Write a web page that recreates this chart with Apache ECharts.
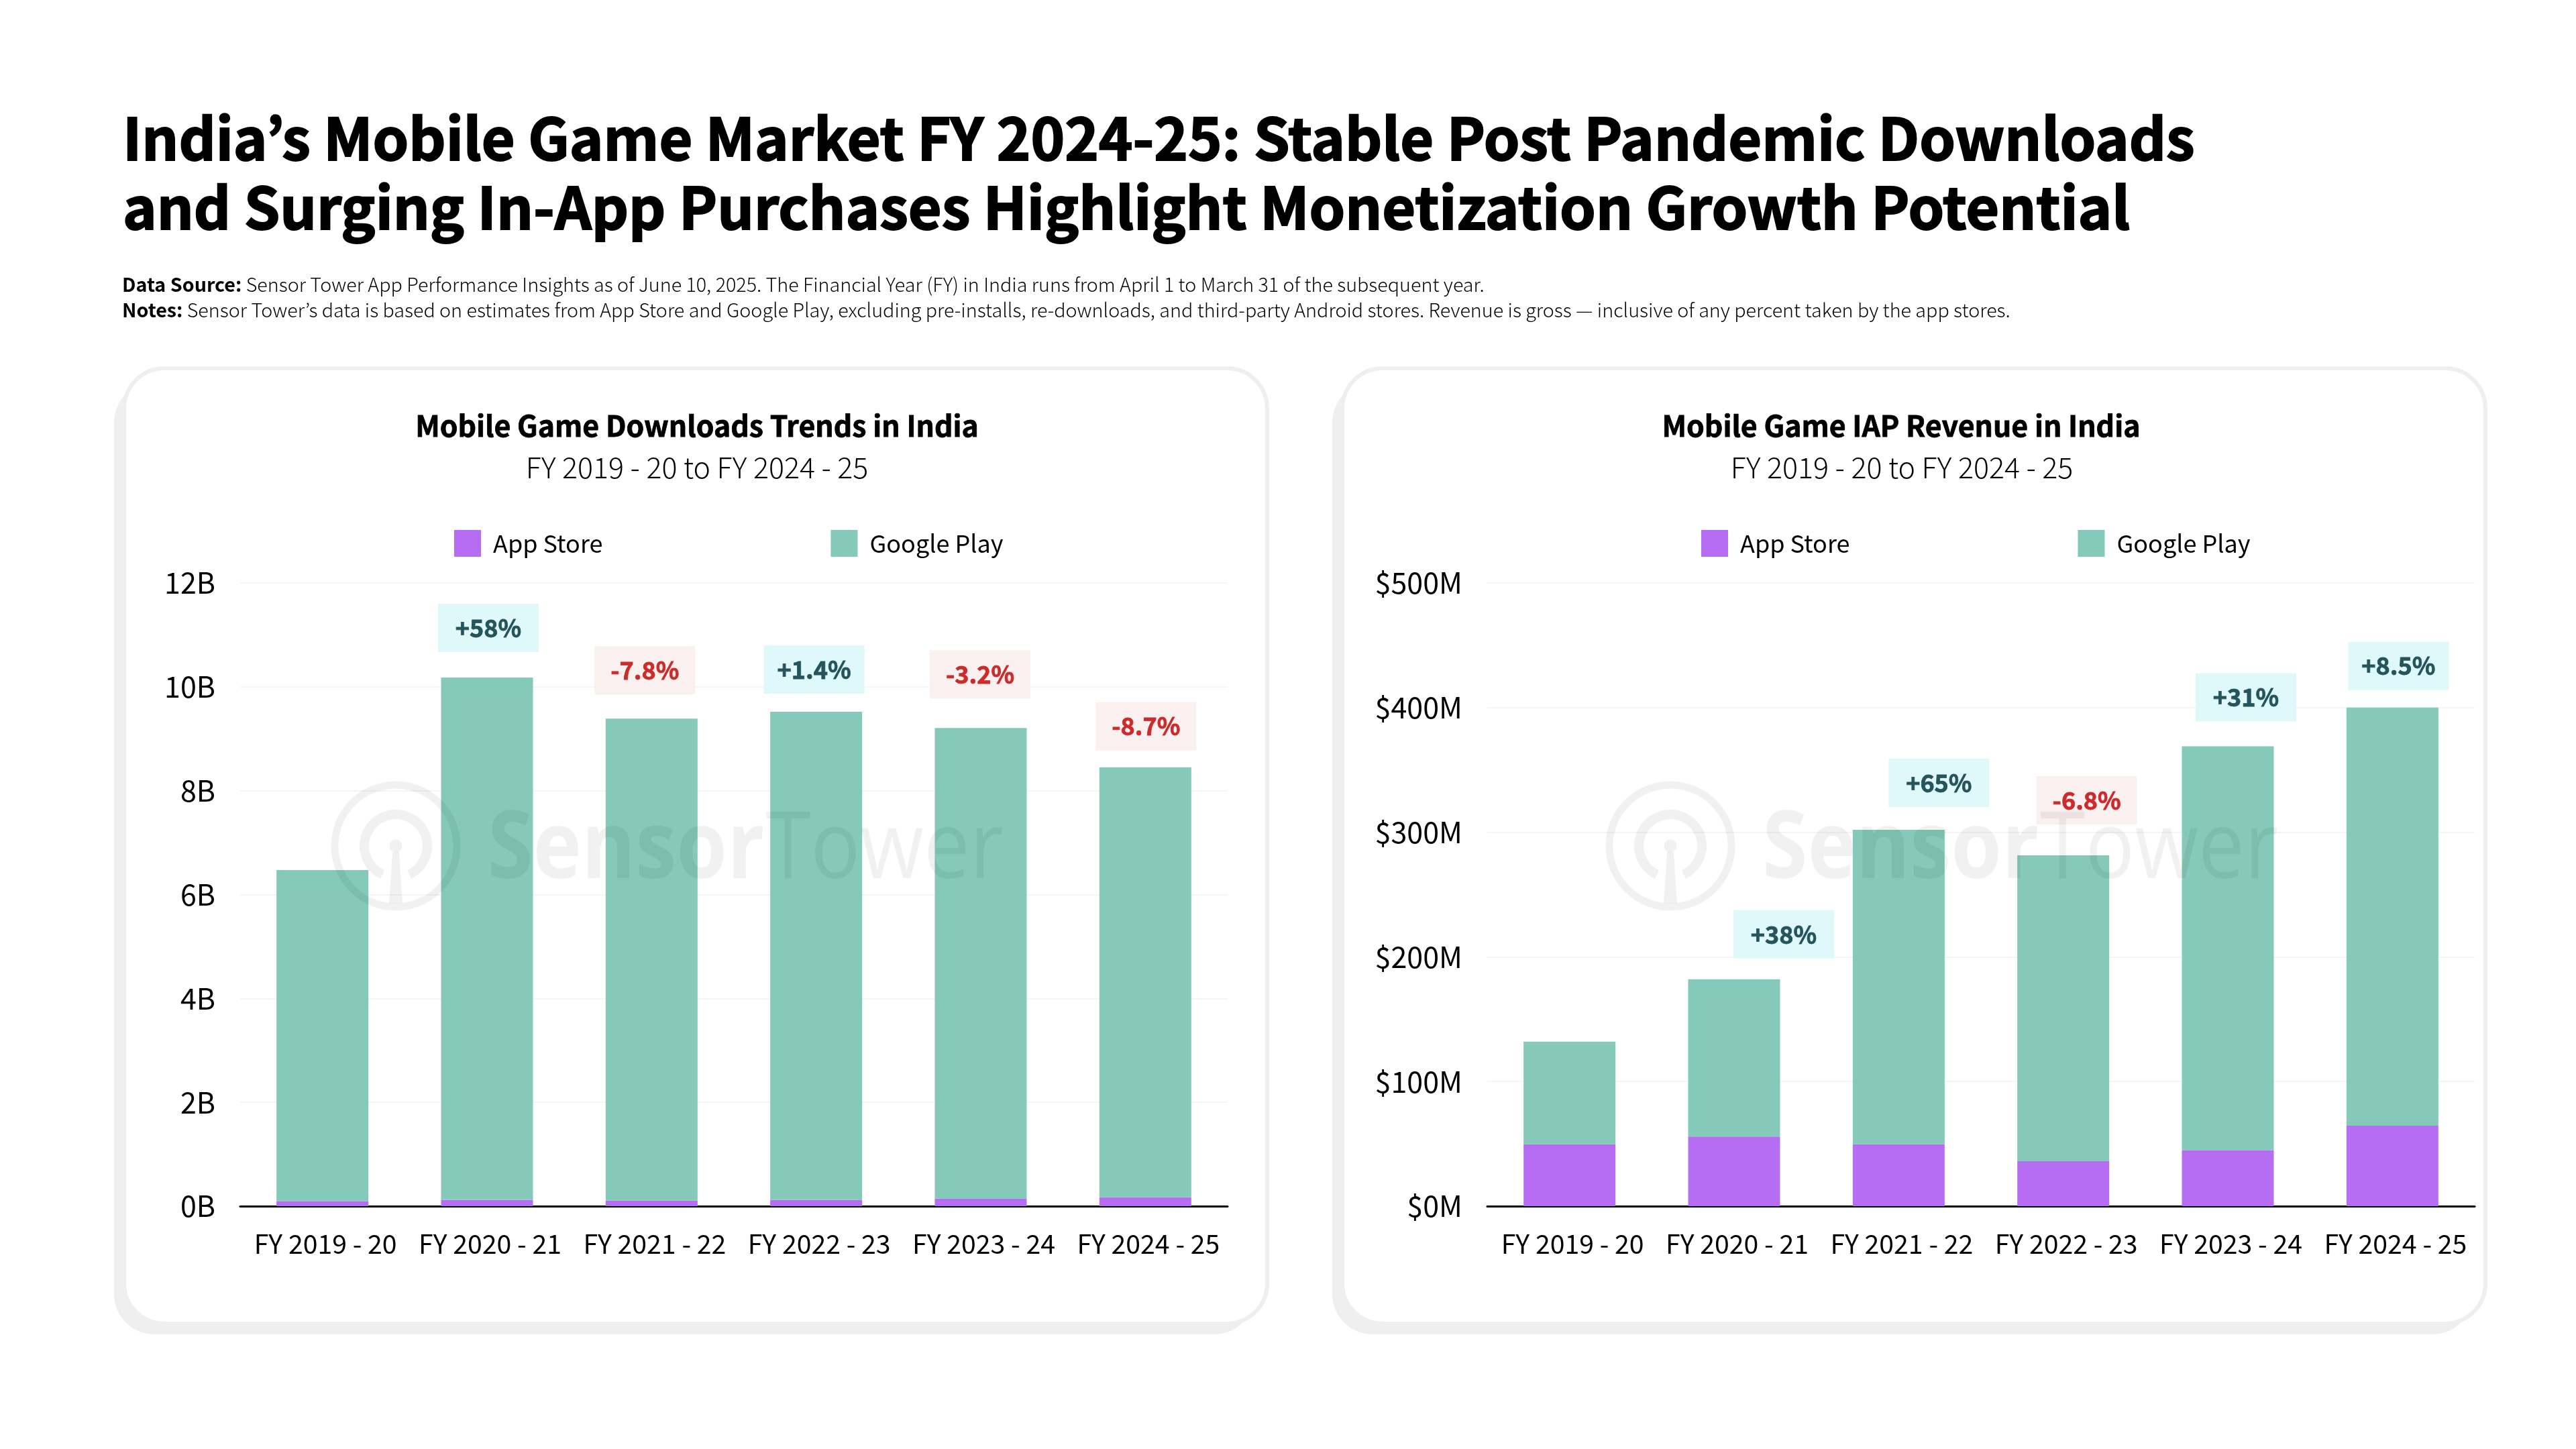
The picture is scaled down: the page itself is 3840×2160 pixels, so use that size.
<!DOCTYPE html>
<html>
<head>
    <meta charset="utf-8">
    <title>India's Mobile Game Market FY 2024-25</title>
    <style>
        html, body { margin: 0; padding: 0; background: #fff; }
        #chart { width: 3840px; height: 2160px; }
    </style>
    <script src="https://cdn.jsdelivr.net/npm/echarts@6/dist/echarts.min.js"></script>
</head>
<body>
<div id="chart"></div>
<script>
    // chart values
    var categories = ['FY 2019 - 20', 'FY 2020 - 21', 'FY 2021 - 22', 'FY 2022 - 23', 'FY 2023 - 24', 'FY 2024 - 25'];
    var seriesNames = ['App Store', 'Google Play'];

    var downloadsAppStore = [0.095, 0.12, 0.108, 0.12, 0.146, 0.172];
    var downloadsGooglePlay = [6.375, 10.06, 9.28, 9.40, 9.06, 8.28];
    var downloadsChange = ['', '+58%', '-7.8%', '+1.4%', '-3.2%', '-8.7%'];

    var revenueAppStore = [49.6, 55.8, 49.6, 36, 45, 64.6];
    var revenueGooglePlay = [82.4, 126.2, 252.4, 245.5, 324, 335.4];
    var revenueChange = ['', '+38%', '+65%', '-6.8%', '+31%', '+8.5%'];

    // where each change badge sits relative to its bar: [right, above]
    var downloadsBadgeShift = [[0, 0], [2, 38], [-10, 36], [-3, 27], [-1, 44], [1, 25]];
    var revenueBadgeShift = [[0, 0], [74, 31], [60, 34], [35, 46], [27, 37], [9, 26]];

    var FONT = '"Noto Sans CJK KR", "Noto Sans", sans-serif';
    var PURPLE = '#b66cf3';
    var TEAL = '#84c9b9';

    function badgeData(values, change, shift) {
        return values.map(function (v, i) {
            if (!change[i]) return v;
            var up = change[i].charAt(0) === '+';
            var ink = up ? '#25545c' : '#cc2b2b';
            return {
                value: v,
                label: {
                    show: true,
                    position: 'top',
                    distance: 0,
                    offset: [shift[i][0], -shift[i][1] - 36],
                    formatter: change[i],
                    width: 150,
                    height: 72,
                    lineHeight: 72,
                    align: 'center',
                    verticalAlign: 'middle',
                    fontFamily: FONT,
                    fontSize: 36,
                    fontWeight: 700,
                    color: ink,
                    textBorderColor: ink,
                    textBorderWidth: 0.8,
                    backgroundColor: up ? '#dff9fb' : '#faf0ef'
                }
            };
        });
    }

    function xAxisFor(gridIndex) {
        return {
            type: 'category',
            gridIndex: gridIndex,
            data: categories,
            axisTick: { show: false },
            axisLine: { lineStyle: { color: '#000', width: 3 } },
            axisLabel: {
                color: '#000', fontFamily: FONT, fontSize: 39.2, margin: 37,
                interval: 0, padding: [0, 0, 0, 9]
            }
        };
    }

    function yAxisFor(gridIndex, max, interval, fmt) {
        return {
            type: 'value',
            gridIndex: gridIndex,
            min: 0,
            max: max,
            interval: interval,
            axisLine: { show: false },
            axisTick: { show: false },
            splitLine: { lineStyle: { color: '#f5f5f5', width: 2 } },
            axisLabel: { color: '#000', fontFamily: FONT, fontSize: 43, margin: 37, formatter: fmt }
        };
    }

    function barSeries(name, gridIndex, data, color) {
        return {
            name: name,
            type: 'bar',
            stack: 'total' + gridIndex,
            xAxisIndex: gridIndex,
            yAxisIndex: gridIndex,
            barWidth: 137,
            itemStyle: { color: color },
            data: data
        };
    }

    function legendAt(gridIndex, left) {
        return {
            orient: 'horizontal',
            left: left,
            top: 790,
            padding: 0,
            itemWidth: 40,
            itemHeight: 40,
            itemGap: 340,
            icon: 'rect',
            data: seriesNames,
            textStyle: { color: '#000', fontFamily: FONT, fontSize: 36, padding: [0, 0, 0, 13] }
        };
    }

    function card(xLeft, xRight) {
        return [
            { type: 'rect', z: -3, shape: { x: xLeft - 18, y: 570, width: xRight - xLeft + 2, height: 1419, r: 60 }, style: { fill: '#efefef' } },
            { type: 'rect', z: -2, shape: { x: xLeft - 3, y: 549, width: xRight - xLeft + 6, height: 1424, r: 60 }, style: { fill: '#fff', stroke: '#efefef', lineWidth: 6 } }
        ];
    }

    // faint logo and name, laid over the bars
    function watermark(dx) {
        var ink = 'rgba(0,0,0,0.055)';
        return {
            type: 'group',
            x: dx,
            y: 0,
            z: 100,
            children: [
                { type: 'circle', z: 100, shape: { cx: 590, cy: 1261, r: 91 }, style: { fill: 'none', stroke: ink, lineWidth: 11 } },
                { type: 'arc', z: 100, shape: { cx: 590, cy: 1261, r: 47, startAngle: 115 * Math.PI / 180, endAngle: 65 * Math.PI / 180, clockwise: true }, style: { fill: 'none', stroke: ink, lineWidth: 14 } },
                { type: 'circle', z: 100, shape: { cx: 590, cy: 1261, r: 9.5 }, style: { fill: ink } },
                { type: 'polygon', z: 100, shape: { points: [[585, 1270], [595, 1270], [600, 1347], [580, 1347]] }, style: { fill: ink } },
                { type: 'text', z: 100, x: 727, y: 1199, scaleX: 0.875, style: { text: 'Sensor', fill: ink, font: '700 140px "Open Sans", sans-serif' } },
                { type: 'text', z: 100, x: 1141, y: 1199, scaleX: 0.875, style: { text: 'Tower', fill: ink, font: '400 140px "Open Sans", sans-serif' } }
            ]
        };
    }

    function cardTitle(text, center, top, size, weight, border) {
        return {
            text: text,
            left: center,
            top: top,
            textAlign: 'center',
            textStyle: {
                color: '#000', fontFamily: FONT, fontSize: size, fontWeight: weight,
                textBorderColor: '#000', textBorderWidth: border
            }
        };
    }

    var myChart = echarts.init(document.getElementById('chart'));

    myChart.setOption({
        animation: false,
        backgroundColor: '#fff',
        title: [
            {
                text: 'India\u2019s Mobile Game Market FY 2024-25: Stable Post Pandemic Downloads\nand Surging In-App Purchases Highlight Monetization Growth Potential',
                left: 178,
                top: 150,
                textStyle: {
                    color: '#000', fontFamily: FONT, fontSize: 85.9, fontWeight: 700, lineHeight: 103,
                    textBorderColor: '#000', textBorderWidth: 2
                }
            },
            {
                text: '{b|Data Source:} Sensor Tower App Performance Insights as of June 10, 2025. The Financial Year (FY) in India runs from April 1 to March 31 of the subsequent year.\n{b|Notes:} Sensor Tower\u2019s data is based on estimates from App Store and Google Play, excluding pre-installs, re-downloads, and third-party Android stores. Revenue is gross \u2014 inclusive of any percent taken by the app stores.',
                left: 177,
                top: 400,
                textStyle: {
                    color: '#000', fontFamily: FONT, fontSize: 28.7, fontWeight: 300, lineHeight: 38,
                    rich: { b: { fontFamily: FONT, fontSize: 28.7, fontWeight: 700, lineHeight: 38 } }
                }
            },
            cardTitle('Mobile Game Downloads Trends in India', 1034, 608, 42.8, 700, 0.8),
            cardTitle('FY 2019 - 20 to FY 2024 - 25', 1034, 670, 43, 300, 0),
            cardTitle('Mobile Game IAP Revenue in India', 2829, 608, 42.8, 700, 0.8),
            cardTitle('FY 2019 - 20 to FY 2024 - 25', 2830, 670, 43, 300, 0)
        ],
        legend: [legendAt(0, 677), legendAt(1, 2536)],
        grid: [
            { left: 358, top: 869, width: 1472, height: 929 },
            { left: 2217, top: 869, width: 1472, height: 929 }
        ],
        xAxis: [xAxisFor(0), xAxisFor(1)],
        yAxis: [
            yAxisFor(0, 12, 2, function (v) { return v + 'B'; }),
            yAxisFor(1, 500, 100, function (v) { return '$' + v + 'M'; })
        ],
        series: [
            barSeries(seriesNames[0], 0, downloadsAppStore, PURPLE),
            barSeries(seriesNames[1], 0, badgeData(downloadsGooglePlay, downloadsChange, downloadsBadgeShift), TEAL),
            barSeries(seriesNames[0], 1, revenueAppStore, PURPLE),
            barSeries(seriesNames[1], 1, badgeData(revenueGooglePlay, revenueChange, revenueBadgeShift), TEAL)
        ],
        graphic: card(188, 1886).concat(card(2004, 3702)).concat([watermark(0), watermark(1900)])
    });
</script>
</body>
</html>
